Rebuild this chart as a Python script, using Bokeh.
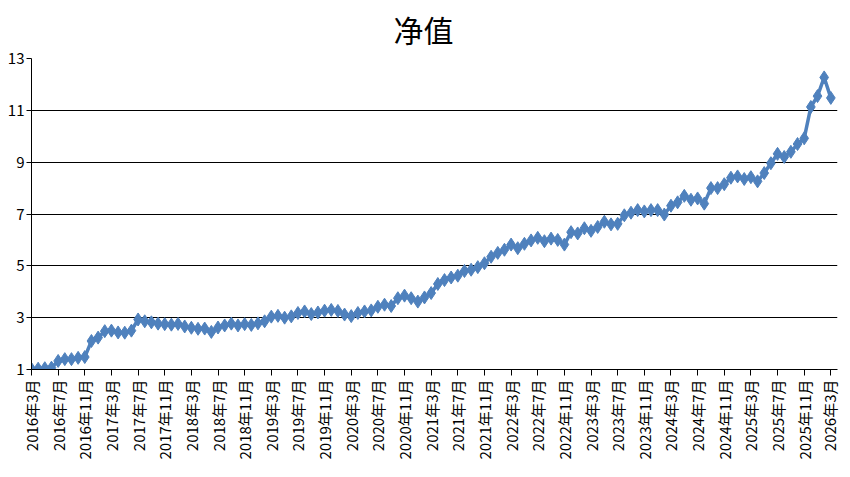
import math
from bokeh.plotting import figure
from bokeh.models import FixedTicker, Range1d, ColumnDataSource
from bokeh.embed import file_html
from bokeh.resources import INLINE

# Monthly net value, 2016-03 .. 2026-03
nav = [
    1.02, 1.03, 1.05, 1.07, 1.33, 1.40, 1.40, 1.45, 1.48, 2.10,
    2.23, 2.48, 2.50, 2.43, 2.42, 2.50, 2.93, 2.86, 2.82, 2.77,
    2.75, 2.73, 2.76, 2.66, 2.61, 2.57, 2.58, 2.45, 2.62, 2.70,
    2.77, 2.70, 2.75, 2.72, 2.78, 2.86, 3.04, 3.07, 3.00, 3.05,
    3.18, 3.24, 3.14, 3.20, 3.27, 3.30, 3.26, 3.12, 3.06, 3.18,
    3.24, 3.28, 3.42, 3.50, 3.45, 3.75, 3.85, 3.75, 3.62, 3.78,
    3.95, 4.30, 4.45, 4.55, 4.62, 4.80, 4.85, 4.95, 5.10, 5.35,
    5.50, 5.62, 5.82, 5.68, 5.85, 5.98, 6.08, 5.95, 6.05, 6.00,
    5.82, 6.30, 6.25, 6.45, 6.35, 6.50, 6.70, 6.60, 6.62, 6.95,
    7.05, 7.15, 7.10, 7.15, 7.15, 6.98, 7.32, 7.45, 7.70, 7.55,
    7.60, 7.40, 8.00, 8.00, 8.15, 8.40, 8.45, 8.35, 8.42, 8.26,
    8.58, 8.96, 9.32, 9.20, 9.40, 9.70, 9.92, 11.13, 11.55, 12.27,
    11.48,
]

tick_labels = [
    "2016年3月", "2016年7月", "2016年11月",
    "2017年3月", "2017年7月", "2017年11月",
    "2018年3月", "2018年7月", "2018年11月",
    "2019年3月", "2019年7月", "2019年11月",
    "2020年3月", "2020年7月", "2020年11月",
    "2021年3月", "2021年7月", "2021年11月",
    "2022年3月", "2022年7月", "2022年11月",
    "2023年3月", "2023年7月", "2023年11月",
    "2024年3月", "2024年7月", "2024年11月",
    "2025年3月", "2025年7月", "2025年11月",
    "2026年3月",
]
label_step = 4  # months between labelled ticks
y_ticks = [1, 3, 5, 7, 9, 11, 13]

x = list(range(len(nav)))
src = ColumnDataSource(dict(x=x, y=nav))

FONT = "Noto Sans CJK SC"
BLUE = "#4F81BD"

p = figure(
    frame_width=806, frame_height=311,
    x_range=Range1d(0, len(nav)), y_range=Range1d(1, 13),
    output_backend="svg", toolbar_location=None,
    min_border_left=31, min_border_right=2, min_border_top=58,
    min_border_bottom=10,
    title="净值",
)
p.title.align = "left"
p.title.offset = 362
p.title.standoff = 12
p.title.vertical_align = "top"
p.title.text_baseline = "top"
p.title.text_font = FONT
p.title.text_font_size = "30px"
p.title.text_font_style = "normal"
p.title.text_color = "black"

p.outline_line_color = None
p.background_fill_color = "white"
p.border_fill_color = "white"

p.line("x", "y", source=src, line_color=BLUE, line_width=3.5)
p.scatter("x", "y", source=src, marker="diamond", size=13,
          fill_color=BLUE, line_color=BLUE)

tick_pos = [i * label_step for i in range(len(tick_labels))]
p.xaxis.ticker = FixedTicker(ticks=tick_pos)
p.xaxis.major_label_overrides = {t: l for t, l in zip(tick_pos, tick_labels)}
p.xaxis.major_label_orientation = math.pi / 2
p.xaxis.minor_tick_line_color = None
p.xaxis.major_tick_in = 0
p.xaxis.major_tick_out = 6
p.xaxis.axis_line_color = "black"
p.xaxis.major_tick_line_color = "black"
p.xaxis.major_label_text_font = FONT
p.xaxis.major_label_text_font_size = "15px"
p.xaxis.major_label_text_color = "black"
p.xaxis.major_label_standoff = 4

p.yaxis.ticker = FixedTicker(ticks=y_ticks)
p.yaxis.minor_tick_line_color = None
p.yaxis.major_tick_in = 0
p.yaxis.major_tick_out = 5
p.yaxis.axis_line_color = "black"
p.yaxis.major_tick_line_color = "black"
p.yaxis.major_label_text_font = FONT
p.yaxis.major_label_text_font_size = "15px"
p.yaxis.major_label_text_color = "black"
p.yaxis.major_label_standoff = 2

p.xgrid.grid_line_color = None
p.ygrid.grid_line_color = "black"
p.ygrid.grid_line_width = 1
p.ygrid.ticker = FixedTicker(ticks=y_ticks)

open("out.html", "w").write(file_html(p, INLINE))
